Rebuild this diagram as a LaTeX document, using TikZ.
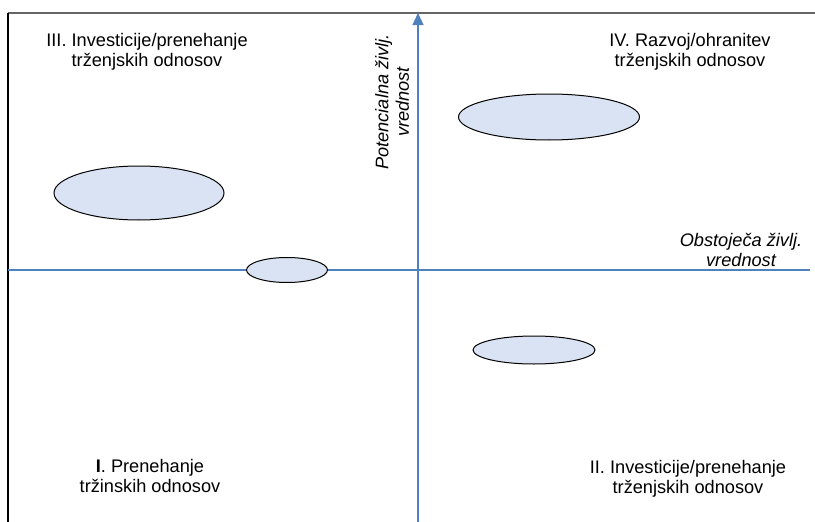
\documentclass[tikz,border=0pt]{standalone}
\usepackage{fontspec}
\setmainfont{Liberation Sans}
\usetikzlibrary{arrows.meta,shapes.geometric}
\definecolor{axisblue}{HTML}{4F81BD}
\definecolor{blobfill}{HTML}{DAE3F3}
\begin{document}
\begin{tikzpicture}[x=1pt,y=-1pt,
  axis/.style={draw=axisblue,line width=1.2pt},
  blob/.style={ellipse,draw=black,line width=1pt,fill=blobfill,inner sep=0pt},
  quad/.style={align=center,font=\fontsize{18.2}{20.5}\selectfont,inner sep=0pt},
  axlabel/.style={align=center,font=\fontsize{18.2}{20.5}\selectfont\itshape,inner sep=0pt}]
\useasboundingbox (0,0) rectangle (815,522);
% frame
\draw[gray!80!black,line width=1.2pt] (8,13) -- (815,13);
\draw[black,line width=1.2pt] (8,13) -- (8,522);
% axes
\coordinate (hl) at (8,270);
\coordinate (hr) at (810,270);
\coordinate (vb) at (418,522);
\coordinate (vt) at (418,13);
\draw[axis] (hl) -- (hr);
\draw[axis,-{Triangle[length=12pt,width=11pt]}] (vb) -- (vt);
% quadrant labels
\node[quad] (q3) at (147,52) {III. Investicije/prenehanje\\trženjskih odnosov};
\node[quad] (q4) at (690,52) {IV. Razvoj/ohranitev\\trženjskih odnosov};
\node[quad] (q1) at (150,476) {\textbf{I}. Prenehanje\\tržinskih odnosov};
\node[quad] (q2) at (688,479) {II. Investicije/prenehanje\\trženjskih odnosov};
% axis labels
\node[axlabel] (xl) at (741,250) {Obstoječa življ.\\vrednost};
\node[axlabel,rotate=90] (yl) at (392,102) {Potencialna življ.\\vrednost};
% ellipses
\node[blob,minimum width=170pt,minimum height=54pt] (e1) at (139,193) {};
\node[blob,minimum width=181pt,minimum height=46pt] (e2) at (549,117) {};
\node[blob,minimum width=81pt,minimum height=25pt] (e3) at (287,270) {};
\node[blob,minimum width=122pt,minimum height=28pt] (e4) at (534,350) {};
\end{tikzpicture}
\end{document}
